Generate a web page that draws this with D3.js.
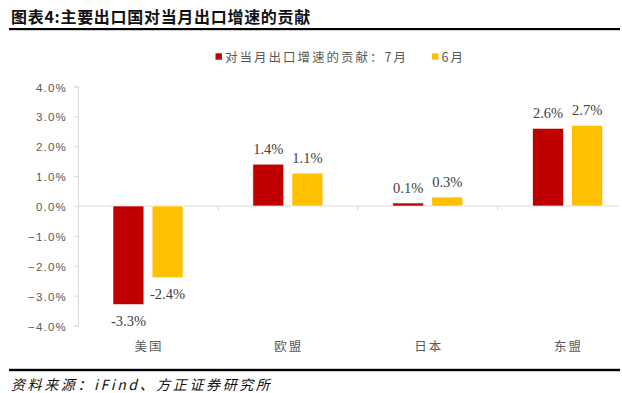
<!DOCTYPE html>
<html>
<head>
<meta charset="utf-8">
<script src="https://cdn.jsdelivr.net/npm/d3@7"></script>
<style>
  body { margin: 0; background: #fff; }
  svg { display: block; }
</style>
</head>
<body>
<svg id="chart" width="622" height="393"></svg>
<script>
// 数据
var categories = ["美国", "欧盟", "日本", "东盟"];
var seriesNames = ["对当月出口增速的贡献：7月", "6月"];
var julValues = [-3.3, 1.4, 0.1, 2.6];
var junValues = [-2.4, 1.1, 0.3, 2.7];
var yTicks = [-4, -3, -2, -1, 0, 1, 2, 3, 4];
var colors = ["#C00000", "#FFC000"];

var svg = d3.select("#chart");
var cjk = "'Noto Sans CJK SC', 'Noto Sans', sans-serif";

// 标题
svg.append("text")
  .attr("x", 11).attr("y", 15.5)
  .attr("dominant-baseline", "central")
  .style("font-family", cjk).style("font-size", "16px").style("font-weight", "bold")
  .style("letter-spacing", "0.7px").style("fill", "#111")
  .text("图表4:主要出口国对当月出口增速的贡献");
svg.append("rect").attr("x", 9).attr("y", 28).attr("width", 611).attr("height", 2.2).attr("fill", "#000");

// 比例尺
var x0 = d3.scaleBand().domain(categories).range([78, 637.5]);
var x1 = d3.scaleBand().domain([0, 1]).range([35, 105]).paddingInner(0.21);
var y = d3.scaleLinear().domain([-4, 4]).range([325.5, 86.5]);

// y轴
var yAxis = svg.append("g").attr("transform", "translate(78,0)")
  .call(d3.axisLeft(y).tickValues(yTicks).tickSize(4).tickPadding(7)
    .tickFormat(function(d) { return d3.format(".1f")(d) + "%"; }));
yAxis.select(".domain").attr("stroke", "#d9d9d9");
yAxis.selectAll(".tick line").attr("stroke", "#d9d9d9");
yAxis.selectAll(".tick text")
  .attr("dy", "0.4em")
  .style("font-family", "'Liberation Sans', Arial, sans-serif")
  .style("font-size", "11.5px").style("letter-spacing", "1.2px")
  .style("fill", "#595959");

// 零线
svg.append("line")
  .attr("x1", 78).attr("x2", 618)
  .attr("y1", y(0)).attr("y2", y(0))
  .attr("stroke", "#d9d9d9").attr("stroke-width", 1.2);

// 类别分隔刻度
svg.selectAll(".ctick").data(categories.slice(1)).enter().append("line")
  .attr("class", "ctick")
  .attr("x1", function(d) { return x0(d); }).attr("x2", function(d) { return x0(d); })
  .attr("y1", y(0)).attr("y2", y(0) + 4.5)
  .attr("stroke", "#d9d9d9");

// 柱子
var rows = categories.map(function(c, i) { return { cat: c, vals: [julValues[i], junValues[i]] }; });
var groups = svg.selectAll(".grp").data(rows).enter().append("g")
  .attr("class", "grp")
  .attr("transform", function(d) { return "translate(" + x0(d.cat) + ",0)"; });

groups.selectAll("rect").data(function(d) { return d.vals; }).enter().append("rect")
  .attr("x", function(d, i) { return x1(i); })
  .attr("width", x1.bandwidth())
  .attr("y", function(d) { return y(Math.max(0, d)); })
  .attr("height", function(d) { return Math.abs(y(d) - y(0)); })
  .attr("fill", function(d, i) { return colors[i]; })
  .attr("stroke", "#fff").attr("stroke-width", 0.6);

// 数据标签
groups.selectAll(".lbl").data(function(d) { return d.vals; }).enter().append("text")
  .attr("class", "lbl")
  .attr("x", function(d, i) { return x1(i) + x1.bandwidth() / 2; })
  .attr("y", function(d) { return d >= 0 ? y(d) - 10 : y(d) + 21; })
  .attr("text-anchor", "middle")
  .style("font-family", "'Liberation Serif', 'Times New Roman', serif")
  .style("font-size", "14.5px").style("fill", "#404040")
  .text(function(d) { return d.toFixed(1) + "%"; });

// 类别标签
svg.selectAll(".cat").data(categories).enter().append("text")
  .attr("class", "cat")
  .attr("x", function(d) { return x0(d) + x0.bandwidth() / 2 + 1; })
  .attr("y", 345)
  .attr("dominant-baseline", "central")
  .attr("text-anchor", "middle")
  .style("font-family", cjk).style("font-size", "12.5px").style("letter-spacing", "2px")
  .style("fill", "#595959")
  .text(function(d) { return d; });

// 图例
var legendX = [215.5, 432];
var legend = svg.selectAll(".leg").data(seriesNames).enter().append("g")
  .attr("class", "leg")
  .attr("transform", function(d, i) { return "translate(" + legendX[i] + ",56.5)"; });
legend.append("rect").attr("x", 0).attr("y", -3.2).attr("width", 6.4).attr("height", 6.4)
  .attr("fill", function(d, i) { return colors[i]; });
legend.append("text").attr("x", 9.5).attr("y", 0)
  .attr("dominant-baseline", "central")
  .style("font-family", cjk).style("font-size", "12.5px").style("letter-spacing", "2px")
  .style("fill", "#595959")
  .text(function(d) { return d; });

// 资料来源
svg.append("rect").attr("x", 9).attr("y", 368.8).attr("width", 611).attr("height", 2.4).attr("fill", "#000");
svg.append("text")
  .attr("x", 11).attr("y", 383.5)
  .attr("dominant-baseline", "central")
  .style("font-family", cjk).style("font-size", "14px").style("font-style", "italic")
  .style("letter-spacing", "2.6px").style("fill", "#111")
  .text("资料来源：iFind、方正证券研究所");
</script>
</body>
</html>
